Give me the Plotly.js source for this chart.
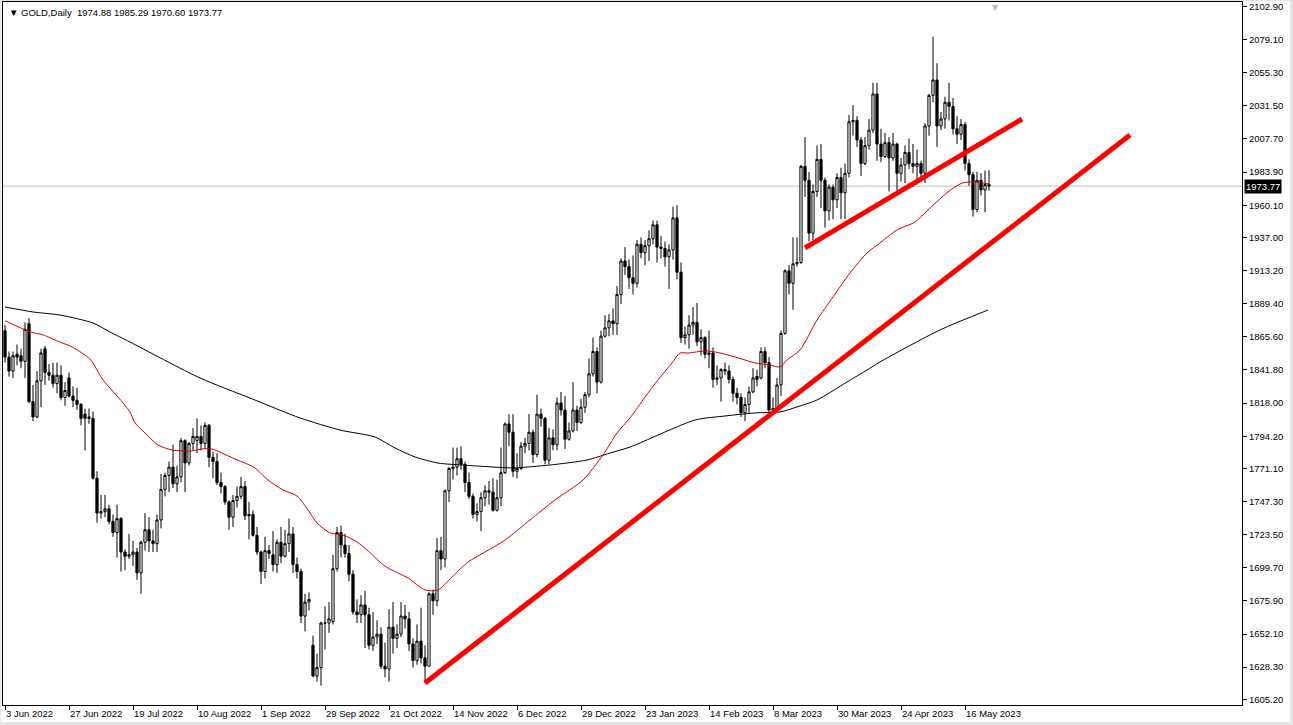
<!DOCTYPE html>
<html><head><meta charset="utf-8">
<script src="https://cdn.plot.ly/plotly-3.0.1.min.js"></script>
<style>
html,body{margin:0;padding:0;background:#e4e4e4;overflow:hidden;}
#chart{position:absolute;left:1px;top:1px;width:1289px;height:721px;background:#fff;}
</style></head><body><div id="chart"></div>
<script>
// ---- Data (GOLD, Daily) ----
const symbolName = 'GOLD,Daily';
const openP = [
1870,1851,1841,1853,1852,1848,1875,1819,1808,1834,
1857,1840,1838,1832,1838,1822,1836,1823,1820,1817,
1810,1808,1807,1764,1739,1740,1742,1733,1725,1735,
1711,1708,1709,1711,1696,1718,1727,1719,1717,1734,
1756,1766,1772,1760,1765,1791,1775,1789,1791,1794,
1789,1802,1779,1776,1761,1758,1747,1736,1748,1751,
1758,1737,1738,1723,1711,1697,1712,1709,1702,1718,
1708,1717,1724,1702,1697,1665,1675,1644,1622,1628,
1660,1660,1661,1699,1725,1716,1710,1695,1668,1666,
1673,1666,1644,1650,1652,1629,1627,1657,1649,1652,
1665,1663,1645,1633,1647,1635,1629,1681,1676,1712,
1706,1755,1771,1772,1778,1774,1761,1751,1738,1740,
1750,1755,1754,1741,1750,1768,1803,1797,1769,1771,
1787,1789,1797,1781,1810,1807,1777,1793,1788,1818,
1813,1792,1798,1813,1804,1815,1824,1839,1855,1833,
1866,1872,1877,1875,1896,1920,1916,1908,1904,1932,
1926,1931,1936,1946,1930,1929,1923,1928,1951,1912,
1865,1867,1874,1876,1862,1865,1853,1854,1835,1836,
1842,1841,1835,1825,1822,1811,1817,1826,1837,1836,
1855,1847,1813,1814,1831,1868,1913,1904,1918,1919,
1988,1978,1940,1970,1993,1978,1956,1973,1964,1980,
1969,1983,2020,2021,2007,1990,2003,2014,2040,2004,
1995,2005,1994,2004,1983,1989,1998,1990,1988,1990,
1983,2017,2039,2050,2017,2022,2034,2031,2015,2011,
2018,1990,1982,1957,1978,1971,1974.88];
const highP = [
1874,1855,1855,1860,1857,1876,1879,1831,1841,1857,
1859,1846,1847,1847,1845,1833,1840,1830,1829,1818,
1814,1814,1812,1769,1752,1752,1745,1738,1745,1736,
1713,1724,1719,1714,1719,1739,1736,1727,1738,1767,
1768,1776,1788,1773,1793,1792,1790,1800,1807,1802,
1804,1803,1783,1782,1768,1759,1748,1752,1758,1765,
1762,1747,1741,1729,1712,1722,1716,1726,1720,1729,
1727,1735,1729,1707,1699,1681,1682,1651,1638,1661,
1672,1675,1709,1729,1730,1724,1716,1698,1677,1680,
1683,1671,1668,1662,1657,1646,1670,1675,1659,1675,
1673,1668,1649,1659,1671,1644,1682,1684,1721,1722,
1756,1772,1786,1786,1787,1776,1768,1753,1746,1754,
1759,1762,1764,1763,1786,1804,1810,1810,1782,1790,
1793,1810,1799,1824,1814,1808,1800,1799,1822,1826,
1823,1804,1833,1816,1821,1826,1850,1865,1858,1870,
1881,1882,1886,1902,1922,1930,1921,1924,1935,1937,
1935,1942,1949,1949,1938,1934,1932,1959,1960,1919,
1873,1881,1887,1890,1871,1866,1870,1858,1845,1843,
1847,1845,1837,1829,1825,1822,1830,1843,1842,1858,
1858,1851,1822,1836,1870,1914,1917,1937,1937,1989,
2009,1984,1975,2003,2004,1980,1975,1975,1983,1987,
1990,2025,2032,2024,2009,2009,2022,2048,2048,2015,
2012,2009,2012,2005,1994,2003,2008,2004,2000,1992,
2019,2040,2081,2062,2027,2038,2048,2037,2024,2022,
2020,1993,1984,1984,1983,1985,1985.29];
const lowP = [
1847,1837,1836,1845,1843,1836,1818,1805,1807,1815,
1831,1834,1829,1825,1820,1816,1822,1815,1813,1802,
1784,1803,1763,1732,1735,1736,1731,1722,1707,1697,
1698,1706,1701,1691,1681,1712,1711,1711,1711,1728,
1751,1754,1757,1754,1761,1754,1773,1784,1782,1784,
1785,1772,1764,1759,1753,1745,1727,1729,1743,1749,
1734,1720,1722,1709,1688,1692,1706,1697,1696,1703,
1707,1711,1696,1692,1660,1654,1669,1621,1618,1615,
1641,1653,1659,1697,1707,1707,1690,1666,1660,1660,
1642,1641,1640,1645,1627,1621,1618,1638,1642,1650,
1656,1640,1628,1630,1631,1617,1629,1666,1672,1698,
1700,1747,1763,1766,1770,1754,1749,1735,1733,1726,
1744,1745,1740,1740,1744,1767,1787,1765,1764,1770,
1782,1784,1775,1779,1801,1774,1774,1784,1784,1809,
1785,1791,1797,1798,1803,1811,1822,1837,1825,1832,
1865,1866,1867,1867,1889,1910,1900,1896,1901,1922,
1917,1920,1932,1919,1922,1916,1900,1921,1907,1861,
1860,1857,1867,1859,1852,1850,1843,1829,1831,1819,
1838,1832,1819,1817,1808,1805,1810,1825,1830,1835,
1843,1810,1809,1812,1823,1867,1896,1885,1916,1918,
1966,1934,1935,1966,1958,1944,1949,1950,1958,1950,
1950,1980,2010,2002,1981,1989,2000,2012,1992,1991,
1994,1970,1992,1970,1977,1976,1986,1983,1975,1977,
1976,2010,2034,2002,2014,2015,2021,2011,2004,2007,
1985,1974,1952,1955,1967,1955,1970.60];
const closeP = [
1851,1841,1852,1851,1848,1871,1819,1808,1834,1854,
1840,1838,1832,1838,1822,1827,1823,1820,1817,1807,
1807,1807,1764,1739,1740,1742,1733,1725,1735,1711,
1708,1709,1711,1696,1718,1727,1719,1717,1734,1756,
1766,1772,1760,1765,1791,1775,1789,1794,1794,1789,
1802,1779,1776,1761,1758,1747,1736,1748,1751,1758,
1737,1738,1723,1711,1697,1712,1710,1702,1718,1708,
1717,1724,1702,1697,1665,1675,1677,1622,1628,1660,
1660,1663,1699,1725,1716,1710,1695,1668,1666,1673,
1666,1644,1650,1652,1629,1627,1657,1649,1652,1665,
1663,1645,1633,1647,1635,1629,1681,1676,1712,1706,
1755,1771,1772,1778,1774,1761,1751,1738,1740,1750,
1755,1754,1741,1750,1768,1803,1797,1769,1771,1787,
1789,1797,1781,1810,1807,1777,1793,1788,1818,1813,
1792,1798,1813,1804,1815,1824,1839,1855,1833,1866,
1872,1877,1875,1896,1920,1916,1908,1904,1932,1926,
1931,1936,1946,1930,1929,1923,1928,1951,1912,1865,
1867,1874,1876,1862,1865,1853,1854,1835,1836,1842,
1841,1835,1825,1822,1811,1817,1826,1836,1835,1855,
1847,1813,1814,1831,1868,1913,1904,1918,1919,1988,
1978,1940,1970,1993,1978,1956,1973,1964,1980,1969,
1983,2020,2021,2007,1990,2003,2014,2040,2004,1995,
2005,1994,2004,1983,1989,1998,1990,1988,1990,1983,
2017,2039,2050,2017,2022,2034,2031,2015,2011,2018,
1990,1982,1957,1978,1971,1975,1973.77];

// bar positions used for the date axis
const dateTickIdx = [0,16,32,48,64,80,96,112,128,144,160,176,192,208,224,240];
const dateTickText = ['3 Jun 2022','27 Jun 2022','19 Jul 2022','10 Aug 2022','1 Sep 2022',
  '29 Sep 2022','21 Oct 2022','14 Nov 2022','6 Dec 2022','29 Dec 2022','23 Jan 2023',
  '14 Feb 2023','8 Mar 2023','30 Mar 2023','24 Apr 2023','16 May 2023'];
const priceTicks = [2102.90,2079.10,2055.30,2031.50,2007.70,1983.90,1960.10,1937.00,1913.20,
  1889.40,1865.60,1841.80,1818.00,1794.20,1771.10,1747.30,1723.50,1699.70,1675.90,1652.10,
  1628.30,1605.20];

// moving averages
const maRedX = [0,6.25,9.5,13.75,16.75,21.25,24.5,28.25,31.25,32.5,35,38.25,41.75,46.75,49.25,51.75,
  54.25,57.5,60,62.5,65.75,69.5,73,75.75,78,81.25,84.5,88,90.5,93.75,95.75,100.75,105,108.25,
  111.75,115.75,120,125,131.25,137.5,144.5,149.5,153,156.25,160,163.25,166.75,168.75,170.75,175,
  177.5,180.75,184.25,187.5,191.25,193.75,195.5,198.75,203,207,211.25,215.5,218.75,223,227.5,
  230.75,235.75,239.25,242.5,246];
const maRedY = [1877.1,1869.2,1866.9,1861.8,1858.3,1849.6,1834.6,1822.3,1811.6,1803.7,1796.5,1787.9,
  1784.3,1783.6,1785.0,1785.0,1782.1,1777.8,1774.9,1771.4,1762.7,1755.6,1751.2,1741.2,1731.9,1724.7,
  1723.2,1718.2,1712.5,1703.8,1699.5,1692.4,1683.7,1683.7,1693.1,1703.8,1711.0,1719.6,1734.0,1748.4,
  1762.7,1780.7,1796.5,1807.3,1822.3,1834.6,1846.8,1853.9,1853.9,1855.4,1854.7,1852.5,1849.6,1846.8,
  1845.3,1843.9,1848.9,1856.1,1877.6,1894.2,1911.4,1925.8,1933.0,1942.3,1948.0,1956.7,1969.6,1976.0,
  1976.8,1975.3];
const maBlackX = [0,7,13.75,22,26.25,31.25,48.75,61.25,73.75,83.75,92.5,97.5,102.5,108.25,114.25,
  121.75,127,136.25,145.5,151.25,156.25,172.5,180,187.5,193.75,198,203,210.5,215.5,218.75,233.75,245.75];
const maBlackY = [1887.0,1883.4,1881.2,1875.5,1869.0,1861.8,1836.0,1821.6,1807.3,1798.6,1793.6,1785.7,
  1779.3,1774.9,1773.5,1772.1,1771.4,1773.5,1777.1,1782.1,1786.4,1805.8,1808.7,1810.9,1811.6,1815.2,
  1820.2,1833.1,1841.7,1847.5,1870.5,1884.8];

// trend lines drawn by hand on the chart
const trend1X = [105, 281.25];
const trend1Y = [1616.9, 2010.5];
const trend2X = [200, 254.25];
const trend2Y = [1929.4, 2022.0];

// ---- Build ----
const barIdx = openP.map((_, i) => i);
const last = openP.length - 1;
const lastClose = closeP[last];
const fontFam = 'Liberation Sans, Arial, sans-serif';

const traces = [
  {type:'candlestick', x:barIdx, open:openP, high:highP, low:lowP, close:closeP,
   increasing:{line:{color:'#000000', width:1}, fillcolor:'#ffffff'},
   decreasing:{line:{color:'#000000', width:1}, fillcolor:'#000000'},
   whiskerwidth:0, hoverinfo:'skip', showlegend:false},
  {type:'scatter', mode:'lines', x:maBlackX, y:maBlackY,
   line:{color:'#000000', width:1, shape:'spline', smoothing:0.7}, hoverinfo:'skip', showlegend:false},
  {type:'scatter', mode:'lines', x:maRedX, y:maRedY,
   line:{color:'#d40000', width:1, shape:'spline', smoothing:0.7}, hoverinfo:'skip', showlegend:false},
  {type:'scatter', mode:'lines', x:trend1X, y:trend1Y,
   line:{color:'#ff0000', width:5}, hoverinfo:'skip', showlegend:false},
  {type:'scatter', mode:'lines', x:trend2X, y:trend2Y,
   line:{color:'#ff0000', width:5}, hoverinfo:'skip', showlegend:false}
];

const layout = {
  width:1289, height:721,
  margin:{l:2, r:48, t:1, b:17, pad:0},
  paper_bgcolor:'#ffffff', plot_bgcolor:'#ffffff',
  showlegend:false, hovermode:false,
  boxgap:0.45, boxgroupgap:0,
  font:{family:fontFam, size:9.5, color:'#000000'},
  xaxis:{range:[-0.5, 309.25], showgrid:false, zeroline:false,
    showline:true, mirror:true, linecolor:'#000000', linewidth:1,
    ticks:'outside', ticklen:4, tickcolor:'#000000',
    tickvals:dateTickIdx, ticktext:dateTickText, ticklabelposition:'outside right',
    ticklabeloverflow:'allow',
    tickfont:{family:fontFam, size:9.5, color:'#000000'},
    rangeslider:{visible:false}, fixedrange:true},
  yaxis:{range:[1601.13, 2106.03], side:'right', showgrid:false, zeroline:false,
    showline:true, mirror:true, linecolor:'#000000', linewidth:1,
    ticks:'outside', ticklen:4, tickcolor:'#000000',
    tickvals:priceTicks, ticktext:priceTicks.map(v => v.toFixed(2)),
    ticklabeloverflow:'allow',
    tickfont:{family:fontFam, size:9.5, color:'#000000'}, fixedrange:true},
  shapes:[
    {type:'line', xref:'paper', x0:0, x1:1, yref:'y', y0:lastClose, y1:lastClose,
     line:{color:'#c0c0c0', width:1}, layer:'below'}
  ],
  annotations:[
    {xref:'paper', yref:'paper', x:0, y:1, xanchor:'left', yanchor:'top', xshift:4, yshift:-3,
     showarrow:false, align:'left',
     text:'\u25BC ' + symbolName + '  ' + openP[last].toFixed(2) + ' ' + highP[last].toFixed(2) + ' ' +
       lowP[last].toFixed(2) + ' ' + closeP[last].toFixed(2),
     font:{family:fontFam, size:9.5, color:'#000000'}},
    {xref:'paper', yref:'y', x:1, y:lastClose, xanchor:'left', yanchor:'middle', xshift:2,
     showarrow:false, text:lastClose.toFixed(2), bgcolor:'#000000', borderpad:1,
     font:{family:fontFam, size:9.5, color:'#ffffff'}},
    {xref:'x', yref:'paper', x:247.5, y:1, xanchor:'center', yanchor:'top', yshift:1,
     showarrow:false, text:'\u25BC', font:{family:'DejaVu Sans', size:8, color:'#b8b8b8'}}
  ]
};

Plotly.newPlot('chart', traces, layout, {staticPlot:true, displayModeBar:false});
</script></body></html>
